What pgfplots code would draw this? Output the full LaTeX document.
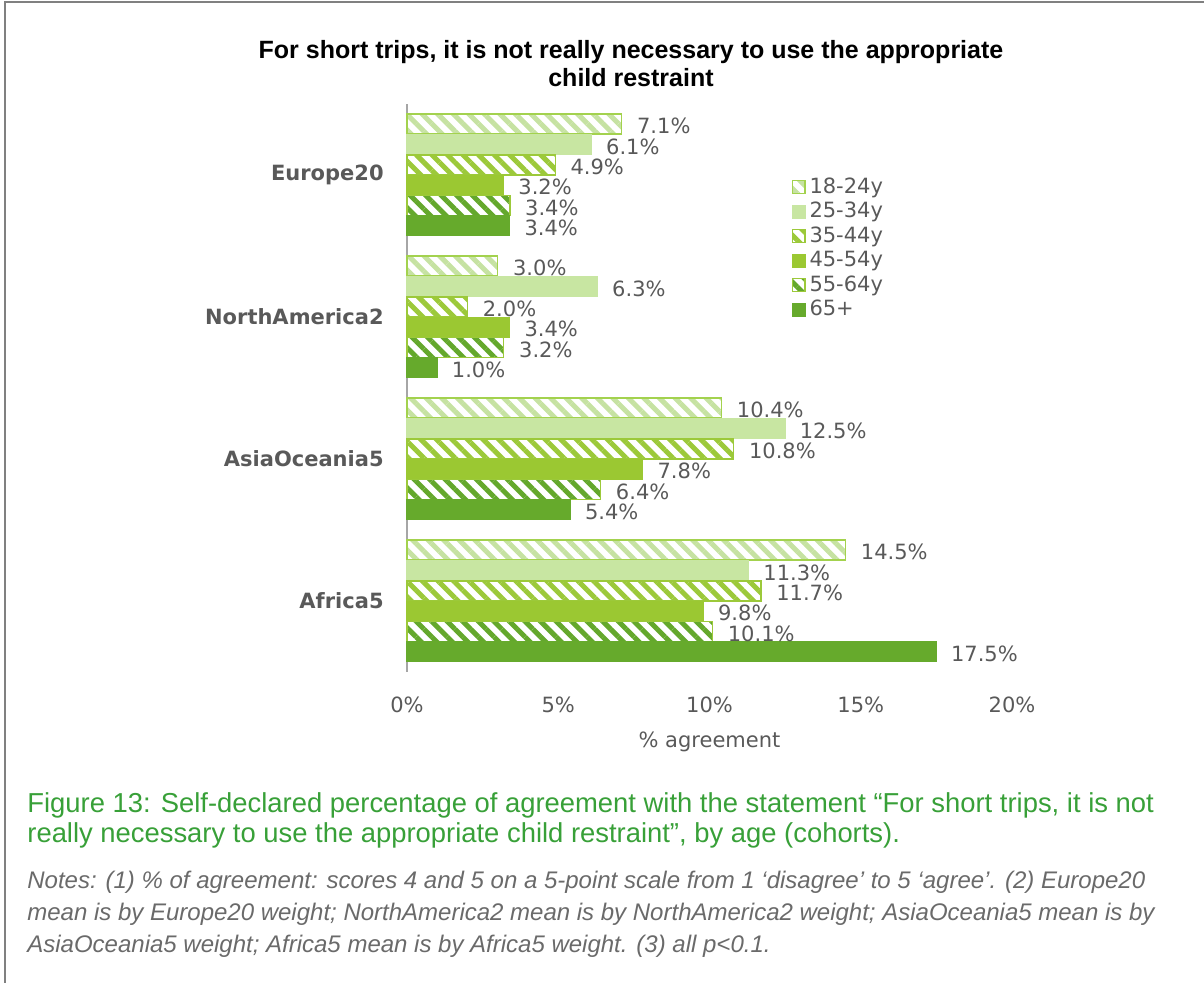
\documentclass[border=0pt]{standalone}
\usepackage{fontspec}
\setmainfont{DejaVu Sans}
\newfontfamily\tahoma{Liberation Sans}
\usepackage{pgfplots}
\pgfplotsset{compat=1.18}
\usetikzlibrary{patterns.meta}
\definecolor{cA}{HTML}{C6E2A2}
\definecolor{cAb}{HTML}{A3D24E}
\definecolor{cB}{HTML}{C8E6A2}
\definecolor{cC}{HTML}{9CC93A}
\definecolor{cD}{HTML}{9BC832}
\definecolor{cE}{HTML}{64A82C}
\definecolor{cF}{HTML}{66AA2C}
\definecolor{txt}{HTML}{595959}
\definecolor{capgreen}{HTML}{38A038}
\definecolor{axgray}{HTML}{A6A6A6}
\begin{document}
\begin{tikzpicture}
\useasboundingbox (-203.5pt,-155.5pt) rectangle (398.5pt,336pt);
\begin{axis}[
  at={(0pt,0pt)}, anchor=south west,
  scale only axis, width=302.5pt, height=284pt,
  xmin=0, xmax=20, ymin=-0.5, ymax=3.5,
  enlargelimits=false, clip=false,
  xbar, bar width=10pt,
  axis lines=left,
  x axis line style={draw=none},
  y axis line style={draw=axgray, line width=0.9pt, -},
  tick style={draw=none},
  xtick={0,5,10,15,20},
  xticklabels={0\%,5\%,10\%,15\%,20\%},
  ytick={0,1,2,3},
  yticklabels={Africa5,AsiaOceania5,NorthAmerica2,Europe20},
  xticklabel style={font=\fontsize{10.5}{12}\selectfont, text=txt, yshift=-7pt},
  yticklabel style={font=\fontsize{10.5}{12}\selectfont\bfseries, text=txt, xshift=-6pt},
  xlabel={\% agreement},
  xlabel style={font=\fontsize{10.5}{12}\selectfont, text=txt, yshift=-2.5pt},
  /pgf/number format/assume math mode=true,
  nodes near coords={\pgfmathprintnumber[fixed,precision=1,fixed zerofill,assume math mode=true]{\pgfplotspointmeta}\%},
  point meta=x,
  nodes near coords style={font=\fontsize{10.5}{12}\selectfont, text=txt, anchor=west, xshift=4pt, yshift=-1pt},
  legend style={at={(0.625,0.885)}, anchor=north west, draw=none, fill=none,
    font=\fontsize{10.5}{12}\selectfont, text=txt, row sep=-1pt,
    /tikz/every even column/.append style={column sep=2pt}},
  legend cell align=left,
  legend image code/.code={\draw[#1, line width=0.6pt] (0pt,-3.2pt) rectangle (6.4pt,3.2pt);},
]
\addplot[bar shift=25.4pt, draw=cAb, line width=0.7pt, pattern={Lines[angle=-45,distance=5.5pt,line width=2.5pt]}, pattern color=cA]
  coordinates {(14.5,0) (10.4,1) (3.0,2) (7.1,3)};
\addplot[bar shift=15.25pt, draw=cB, line width=0pt, fill=cB]
  coordinates {(11.3,0) (12.5,1) (6.3,2) (6.1,3)};
\addplot[bar shift=5.08pt, draw=cC, line width=0.7pt, pattern={Lines[angle=-45,distance=5.5pt,line width=2.5pt]}, pattern color=cC]
  coordinates {(11.7,0) (10.8,1) (2.0,2) (4.9,3)};
\addplot[bar shift=-5.08pt, draw=cD, line width=0pt, fill=cD]
  coordinates {(9.8,0) (7.8,1) (3.4,2) (3.2,3)};
\addplot[bar shift=-15.25pt, draw=cC, line width=0.7pt, pattern={Lines[angle=-45,distance=5.5pt,line width=2.5pt]}, pattern color=cE]
  coordinates {(10.1,0) (6.4,1) (3.2,2) (3.4,3)};
\addplot[bar shift=-25.4pt, draw=cF, line width=0pt, fill=cF]
  coordinates {(17.5,0) (5.4,1) (1.0,2) (3.4,3)};
\legend{18-24y,25-34y,35-44y,45-54y,55-64y,65+}
\end{axis}
\draw[gray, line width=0.6pt] (-201pt,-155.5pt) -- (-201pt,335pt) -- (398.5pt,335pt);
\node[font=\tahoma\bfseries\fontsize{12.5}{14}\selectfont, align=center, text=black] at (112pt,304pt)
  {For short trips, it is not really necessary to use the appropriate\\child restraint};
\node[font=\tahoma\fontsize{13.7}{15}\selectfont, text=capgreen, anchor=west, inner sep=0pt] at (-190pt,-66.5pt)
  {Figure 13: Self-declared percentage of agreement with the statement “For short trips, it is not};
\node[font=\tahoma\fontsize{13.7}{15}\selectfont, text=capgreen, anchor=west, inner sep=0pt] at (-190pt,-81.5pt)
  {really necessary to use the appropriate child restraint”, by age (cohorts).};
\node[font=\tahoma\itshape\fontsize{12}{14}\selectfont, text=txt!90, anchor=west, inner sep=0pt] at (-190pt,-105pt)
  {Notes: (1) \% of agreement: scores 4 and 5 on a 5-point scale from 1 ‘disagree’ to 5 ‘agree’. (2) Europe20};
\node[font=\tahoma\itshape\fontsize{12}{14}\selectfont, text=txt!90, anchor=west, inner sep=0pt] at (-190pt,-121pt)
  {mean is by Europe20 weight; NorthAmerica2 mean is by NorthAmerica2 weight; AsiaOceania5 mean is by};
\node[font=\tahoma\itshape\fontsize{12}{14}\selectfont, text=txt!90, anchor=west, inner sep=0pt] at (-190pt,-137pt)
  {AsiaOceania5 weight; Africa5 mean is by Africa5 weight. (3) all p<0.1.};
\end{tikzpicture}
\end{document}
